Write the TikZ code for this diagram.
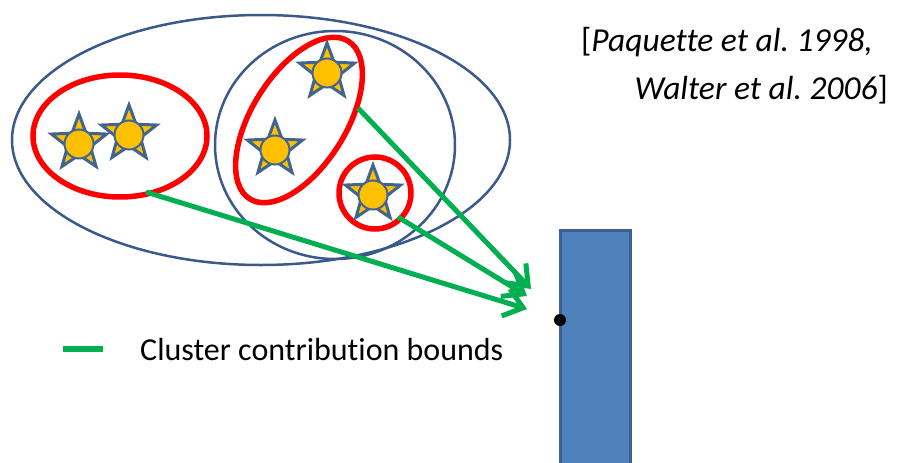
\documentclass[tikz,border=0pt]{standalone}
\usepackage{fontspec}
\setmainfont[Ligatures=NoCommon]{Carlito}
\usetikzlibrary{shapes.geometric,arrows.meta}
\definecolor{sblue}{RGB}{65,100,145}
\definecolor{eblue}{RGB}{58,90,140}
\definecolor{sgold}{RGB}{255,192,0}
\definecolor{agreen}{RGB}{0,176,80}
\definecolor{rfill}{RGB}{79,129,189}
\definecolor{rline}{RGB}{60,96,145}
\tikzset{
  starnode/.style={star, star points=5, star point ratio=2.4, minimum size=58pt, inner sep=0pt, draw=sblue, fill=sgold, line width=3pt},
  corenode/.style={circle, minimum size=29pt, inner sep=0pt, draw=sblue, fill=sgold, line width=2pt},
  outerell/.style={draw=eblue, line width=2.5pt},
  redell/.style={draw=red, line width=5.5pt},
  bound/.style={draw=agreen, line width=5pt, -{Straight Barb[length=18pt,width=28pt,line width=5pt]}},
  lbl/.style={font=\fontsize{32}{36}\selectfont\frenchspacing, inner sep=0pt},
  citelbl/.style={font=\fontsize{33.5}{38}\selectfont\frenchspacing, inner sep=0pt}
}
\begin{document}
\begin{tikzpicture}[x=1pt,y=-1pt]
\useasboundingbox (0,0) rectangle (902,463);
% cluster hierarchy
\draw[outerell] (261,140) ellipse [x radius=249, y radius=125];
\draw[outerell] (335,145) ellipse [x radius=120, y radius=114];
\node[redell, ellipse, minimum width=174pt, minimum height=122pt, inner sep=0pt] (clA) at (120,136) {};
\node[redell, ellipse, minimum width=186pt, minimum height=94pt, inner sep=0pt, rotate=58] (clB) at (299,120) {};
\node[redell, circle, minimum size=72pt, inner sep=0pt] (clC) at (375,193) {};
% stars
\foreach \n/\x/\y in {s1/79/143, s2/129/134, s3/327/72, s4/275/149, s5/373/194}{
  \node[starnode] (\n) at (\x,\y) {};
  \node[corenode] at (\x,\y+1) {};
}
% target
\node[draw=rline, fill=rfill, line width=3pt, minimum width=70pt, minimum height=240pt, inner sep=0pt, anchor=north west] (tgt) at (559,229) {};
\node[circle, fill=black, minimum size=12pt, inner sep=0pt] (pt) at (560,320) {};
% bounds
\coordinate (a1) at (146,192);
\coordinate (a2) at (358,108);
\coordinate (a3) at (398,217);
\coordinate (t1) at (527,309);
\coordinate (t2) at (531,289);
\coordinate (t3) at (527,296);
\draw[bound] (a1) -- (t1);
\draw[bound] (a2) -- (t2);
\draw[bound] (a3) -- (t3);
% legend
\coordinate (l1) at (63,349);
\coordinate (l2) at (103,349);
\draw[draw=agreen, line width=6pt] (l1) -- (l2);
\node[lbl, anchor=base west] (leg) at (140,360) {Cluster contribution bounds};
% citation
\node[citelbl, anchor=base east] (c1) at (873,51) {[\textit{Paquette et al. 1998,}};
\node[citelbl, anchor=base east] (c2) at (888,99) {\textit{Walter et al. 2006}]};
\end{tikzpicture}
\end{document}
